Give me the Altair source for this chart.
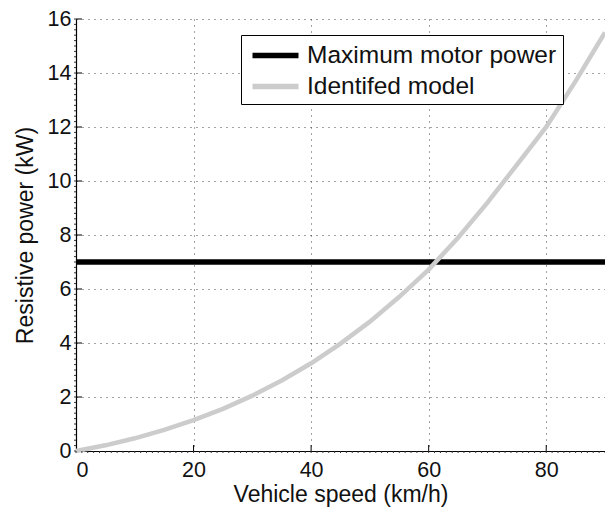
import altair as alt
import pandas as pd

# --- data ---
speed = [0, 5, 10, 15, 20, 25, 30, 35, 40, 45, 50, 55, 60, 65, 70, 75, 80, 85, 90]
power = [0, 0.21, 0.47, 0.78, 1.14, 1.56, 2.05, 2.61, 3.25, 3.98, 4.79, 5.71,
         6.72, 7.9, 9.2, 10.6, 12.0, 13.7, 15.5]
max_speed = [0, 90]
max_power = [7, 7]
series = ["Maximum motor power", "Identifed model"]
colors = ["#000000", "#cccccc"]
x_ticks = [0, 20, 40, 60, 80]
y_ticks = [0, 2, 4, 6, 8, 10, 12, 14, 16]
x_minor = list(range(0, 91, 1))
y_minor = [i / 5 for i in range(0, 81)]

W, H = 529, 432
FONT = "Liberation Sans"

model_df = pd.DataFrame({"speed": speed, "power": power, "series": series[1]})
max_df = pd.DataFrame({"speed": max_speed, "power": max_power, "series": series[0]})
xt_df = pd.DataFrame({"v": x_ticks[1:]})
yt_df = pd.DataFrame({"v": y_ticks[1:]})
xm_df = pd.DataFrame({"v": x_minor})
ym_df = pd.DataFrame({"v": y_minor})

xscale = alt.Scale(domain=[0, 90], nice=False, zero=False)
yscale = alt.Scale(domain=[0, 16], nice=False, zero=False)
cscale = alt.Scale(domain=series, range=colors)

legend = alt.Legend(
    title=None, orient="none", legendX=165, legendY=16,
    strokeColor="black", fillColor="white", padding=6,
    symbolType="M-2,0H2", symbolStrokeWidth=5.5, symbolSize=529,
    symbolOffset=14,
    labelFontSize=24.5, labelFont=FONT, labelColor="#111", labelOffset=17,
    rowPadding=5, labelLimit=400,
)

xaxis = alt.Axis(values=x_ticks, title="Vehicle speed (km/h)", ticks=False, tickSize=0,
                 labelPadding=8, titlePadding=3)
yaxis = alt.Axis(values=y_ticks, title="Resistive power (kW)", ticks=False, tickSize=0,
                 labelPadding=5, titlePadding=10)

black = alt.Chart(max_df).mark_line(strokeWidth=5.5, clip=True).encode(
    x=alt.X("speed:Q", scale=xscale, axis=xaxis),
    y=alt.Y("power:Q", scale=yscale, axis=yaxis),
    color=alt.Color("series:N", scale=cscale, legend=legend),
)
gray = alt.Chart(model_df).mark_line(strokeWidth=4.5).encode(
    x=alt.X("speed:Q", scale=xscale),
    y=alt.Y("power:Q", scale=yscale),
    color=alt.Color("series:N", scale=cscale, legend=legend),
)

xmaj = alt.Chart(xt_df).mark_rule(color="black", strokeWidth=1).encode(
    x=alt.X("v:Q", scale=xscale), y=alt.value(H), y2=alt.value(H - 6))
ymaj = alt.Chart(yt_df).mark_rule(color="black", strokeWidth=1).encode(
    y=alt.Y("v:Q", scale=yscale), x=alt.value(0), x2=alt.value(6))
xmin = alt.Chart(xm_df).mark_rule(color="#333", strokeWidth=1).encode(
    x=alt.X("v:Q", scale=xscale), y=alt.value(H), y2=alt.value(H + 2))
ymin = alt.Chart(ym_df).mark_rule(color="#333", strokeWidth=1).encode(
    y=alt.Y("v:Q", scale=yscale), x=alt.value(0), x2=alt.value(-2))

chart = alt.layer(black, gray, xmaj, ymaj, xmin, ymin).properties(
    width=W, height=H,
    autosize=alt.AutoSizeParams(type="none"),
    padding={"left": 68, "top": 11, "right": 0, "bottom": 59},
).configure_view(stroke=None).configure_axis(
    labelFont=FONT, titleFont=FONT, labelFontSize=21.5, titleFontSize=23,
    labelColor="#111", titleColor="#111", titleFontWeight="normal",
    domainColor="black", domainWidth=1.2,
    gridColor="#333", gridDash=[1, 5], gridWidth=1, gridOpacity=0.9,
)

chart.save("out.html", embed_options={"renderer": "svg", "actions": False})
